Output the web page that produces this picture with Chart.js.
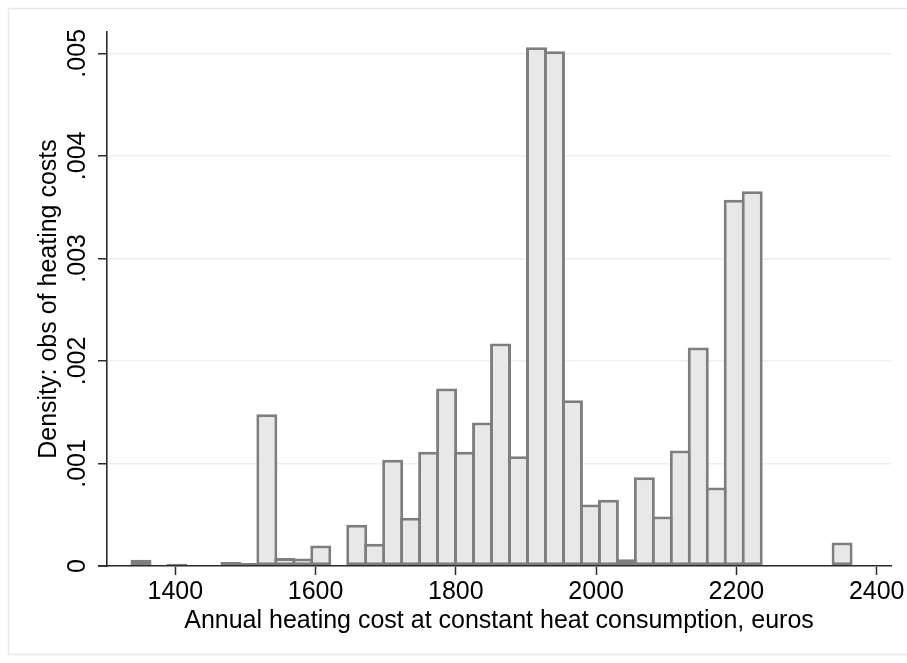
<!DOCTYPE html>
<html>
<head>
<meta charset="utf-8">
<script src="https://cdn.jsdelivr.net/npm/chart.js@4.4.1/dist/chart.umd.min.js"></script>
<style>
  html, body { margin: 0; padding: 0; background: #ffffff; }
  canvas { display: block; }
</style>
</head>
<body>
<canvas id="hist" width="907" height="663"></canvas>
<script>
// Histogram bins: midpoint of each bin (euros) and its density
const binMids = [
  1351.10, 1376.73, 1402.36, 1427.99, 1453.62, 1479.25, 1504.88, 1530.51,
  1556.14, 1581.77, 1607.40, 1633.03, 1658.66, 1684.29, 1709.92, 1735.55,
  1761.18, 1786.81, 1812.44, 1838.07, 1863.70, 1889.33, 1914.96, 1940.59,
  1966.22, 1991.85, 2017.48, 2043.11, 2068.74, 2094.37, 2120.00, 2145.63,
  2171.26, 2196.89, 2222.52, 2248.15, 2273.78, 2299.41, 2325.04, 2350.67
];
const density = [
  0.000062, 0,        0.000023, 0,        0,        0.000038, 0.000030, 0.001480,
  0.000077, 0.000072, 0.000201, 0,        0.000402, 0.000218, 0.001035, 0.000470,
  0.001113, 0.001730, 0.001113, 0.001400, 0.002169, 0.001070, 0.005060, 0.005020,
  0.001617, 0.000600, 0.000645, 0.000065, 0.000866, 0.000483, 0.001126, 0.002130,
  0.000765, 0.003572, 0.003654, 0,        0,        0,        0,        0.000229
];
const xTicks = [1400, 1600, 1800, 2000, 2200, 2400];
const yTicks = [0, 0.001, 0.002, 0.003, 0.004, 0.005];
const xTitle = 'Annual heating cost at constant heat consumption, euros';
const yTitle = 'Density: obs of heating costs';

const FONT = "'Liberation Sans', Arial, Helvetica, sans-serif";
const AXIS = '#2b2b2b';
const TICK_LEN = 9;
const BAR_LINE = 3;

// light outer frame, plus the x-axis line running out under the y ticks
const frame = {
  id: 'frame',
  beforeDraw(chart) {
    const c = chart.ctx;
    c.save();
    c.fillStyle = '#ffffff';
    c.fillRect(0, 0, chart.width, chart.height);
    c.strokeStyle = '#e4ebee';
    c.lineWidth = 1.5;
    c.strokeRect(8.5, 8.5, chart.width, chart.height - 17);
    c.restore();
  },
  afterDraw(chart) {
    const c = chart.ctx;
    const a = chart.chartArea;
    const y = chart.scales.x.top;
    c.save();
    c.strokeStyle = AXIS;
    c.lineWidth = 1.6;
    c.beginPath();
    c.moveTo(a.left - TICK_LEN, y);
    c.lineTo(a.left + 1, y);
    c.stroke();
    c.restore();
  }
};

new Chart(document.getElementById('hist'), {
  type: 'bar',
  data: {
    datasets: [{
      data: binMids.map((x, i) => ({ x: x, y: density[i] })),
      backgroundColor: '#e8e8e8',
      borderColor: '#7e7e7e',
      borderWidth: BAR_LINE,
      borderSkipped: false,
      categoryPercentage: 1,
      barPercentage: 1.167
    }]
  },
  options: {
    responsive: false,
    animation: false,
    devicePixelRatio: 1,
    layout: { padding: { left: 0, top: 32, right: 16, bottom: 0 } },
    plugins: { legend: { display: false }, tooltip: { enabled: false } },
    scales: {
      x: {
        type: 'linear',
        offset: false,
        min: 1302.6,
        max: 2420.4,
        afterBuildTicks: s => { s.ticks = xTicks.map(v => ({ value: v })); },
        afterFit: s => { s.height = 97; },
        grid: { offset: false, drawOnChartArea: false, drawTicks: true, tickLength: TICK_LEN, tickColor: AXIS, tickWidth: 1.5 },
        border: { display: true, color: AXIS, width: 1.6, z: 1 },
        ticks: {
          color: '#000', font: { family: FONT, size: 25 }, padding: 2,
          minRotation: 0, maxRotation: 0, autoSkip: false,
          callback: v => String(v)
        },
        title: {
          display: true, text: xTitle, color: '#000',
          font: { family: FONT, size: 25 }, padding: { top: 0, bottom: 27 }
        }
      },
      y: {
        type: 'linear',
        min: 0,
        max: 0.0052077,
        afterBuildTicks: s => { s.ticks = yTicks.map(v => ({ value: v })); },
        afterFit: s => { s.width = 107; },
        grid: { color: '#e9f0f2', lineWidth: 1.5, drawTicks: true, tickLength: TICK_LEN, tickColor: AXIS, tickWidth: 1.5 },
        border: { display: true, color: AXIS, width: 1.6, z: 1 },
        ticks: {
          color: '#000', font: { family: FONT, size: 25 }, padding: -4,
          minRotation: 90, maxRotation: 90, crossAlign: 'center', autoSkip: false,
          callback: v => (v === 0 ? '0' : v.toFixed(3).replace(/^0/, ''))
        },
        title: {
          display: true, text: yTitle, color: '#000',
          font: { family: FONT, size: 25 }, padding: { top: 34, bottom: 0 }
        }
      }
    }
  },
  plugins: [frame]
});
</script>
</body>
</html>
